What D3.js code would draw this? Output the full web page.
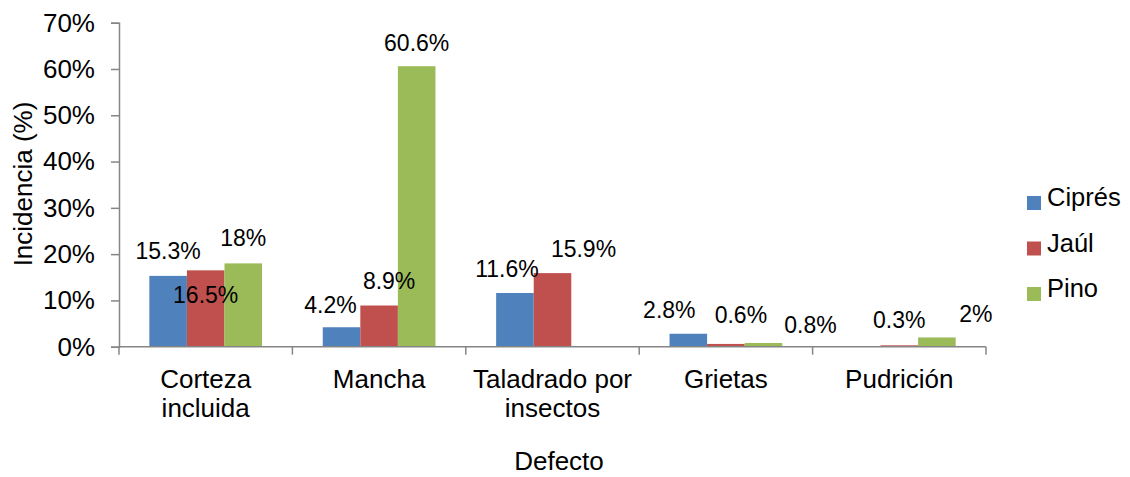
<!DOCTYPE html>
<html><head><meta charset="utf-8">
<script src="https://cdn.jsdelivr.net/npm/d3@7"></script>
<style>body{margin:0;background:#fff;} text{font-family:"Liberation Sans",Arial,sans-serif;fill:#000;}</style>
</head><body><svg id="c" width="1130" height="477"></svg>
<script>
const categories = [["Corteza","incluida"],["Mancha"],["Taladrado por","insectos"],["Grietas"],["Pudrición"]];
const seriesNames = ["Ciprés","Jaúl","Pino"];
const cipres = [15.3, 4.2, 11.6, 2.8, 0];
const jaul   = [16.5, 8.9, 15.9, 0.6, 0.3];
const pino   = [18, 60.6, 0, 0.8, 2];
const yTicks = [0,10,20,30,40,50,60,70];
const colors = ["#4F81BD","#C0504D","#9BBB59"];
// label nudges (dx, dy from bar top) as placed in the original
const nudgeC = [[0,-17],[-11,-14],[-8,-16],[-19,-16],[0,0]];
const nudgeJ = [[0,33],[10,-17],[31,-16],[15,-21],[0,-17]];
const nudgeP = [[0,-17],[0,-15],[0,0],[47,-10],[39,-15]];

const values = [cipres, jaul, pino];
const nudges = [nudgeC, nudgeJ, nudgeP];
const svg = d3.select("#c");
const x0 = 119, x1 = 986, yTop = 22.7, yBot = 346.7;
const x = d3.scaleBand().domain(d3.range(categories.length)).range([x0,x1]).paddingInner(0.35).paddingOuter(0.175);
const xs = d3.scaleBand().domain(d3.range(3)).range([0, x.bandwidth()]);
const y = d3.scaleLinear().domain([0,70]).range([yBot,yTop]);
const axisColor = "#868686";

// bars
values.forEach((vals,si)=>{
  svg.append("g").selectAll("rect").data(vals).join("rect")
    .attr("x",(d,i)=>x(i)+xs(si)).attr("width",xs.bandwidth())
    .attr("y",d=>y(d)).attr("height",d=>yBot-y(d)).attr("fill",colors[si]);
});

// y axis
const ya = svg.append("g").attr("transform",`translate(${x0},0)`)
  .call(d3.axisLeft(y).tickValues(yTicks).tickSize(8).tickPadding(16).tickFormat(d=>d+"%"));
ya.select(".domain").attr("stroke",axisColor).attr("stroke-width",1.5);
ya.selectAll(".tick line").attr("stroke",axisColor).attr("stroke-width",1.5);
ya.selectAll(".tick text").attr("font-size",26).attr("font-family","Liberation Sans, Arial, sans-serif").attr("fill","#000");

// x axis
const step = (x1-x0)/categories.length;
const xg = svg.append("g");
xg.append("line").attr("x1",x0).attr("x2",x1).attr("y1",yBot).attr("y2",yBot).attr("stroke",axisColor).attr("stroke-width",1.5);
xg.selectAll("line.t").data(d3.range(categories.length+1)).join("line").attr("class","t")
  .attr("x1",i=>x0+i*step).attr("x2",i=>x0+i*step).attr("y1",yBot).attr("y2",yBot+8)
  .attr("stroke",axisColor).attr("stroke-width",1.5);
categories.forEach((lines,i)=>{
  const t = xg.append("text").attr("text-anchor","middle").attr("font-size",26)
    .attr("x",x(i)+x.bandwidth()/2).attr("y",388);
  lines.forEach((l,k)=>t.append("tspan").attr("x",x(i)+x.bandwidth()/2).attr("dy",k?29:0).text(l));
});

// data labels
values.forEach((vals,si)=>{
  vals.forEach((v,i)=>{
    if(v===0) return;
    const n = nudges[si][i];
    svg.append("text").attr("text-anchor","middle").attr("font-size",23)
      .attr("x",x(i)+xs(si)+xs.bandwidth()/2+n[0]).attr("y",y(v)+n[1]).text(v+"%");
  });
});

// axis titles
svg.append("text").attr("text-anchor","middle").attr("font-size",26)
  .attr("transform","translate(32,184) rotate(-90)").text("Incidencia (%)");
svg.append("text").attr("text-anchor","middle").attr("font-size",26).attr("x",559).attr("y",470).text("Defecto");

// legend
const lg = svg.append("g");
seriesNames.forEach((s,i)=>{
  const cy = 203 + i*45.5;
  lg.append("rect").attr("x",1027).attr("y",cy-7).attr("width",14).attr("height",14).attr("fill",colors[i]);
  lg.append("text").attr("x",1047).attr("y",cy+3).attr("font-size",25.5).text(s);
});
</script></body></html>
